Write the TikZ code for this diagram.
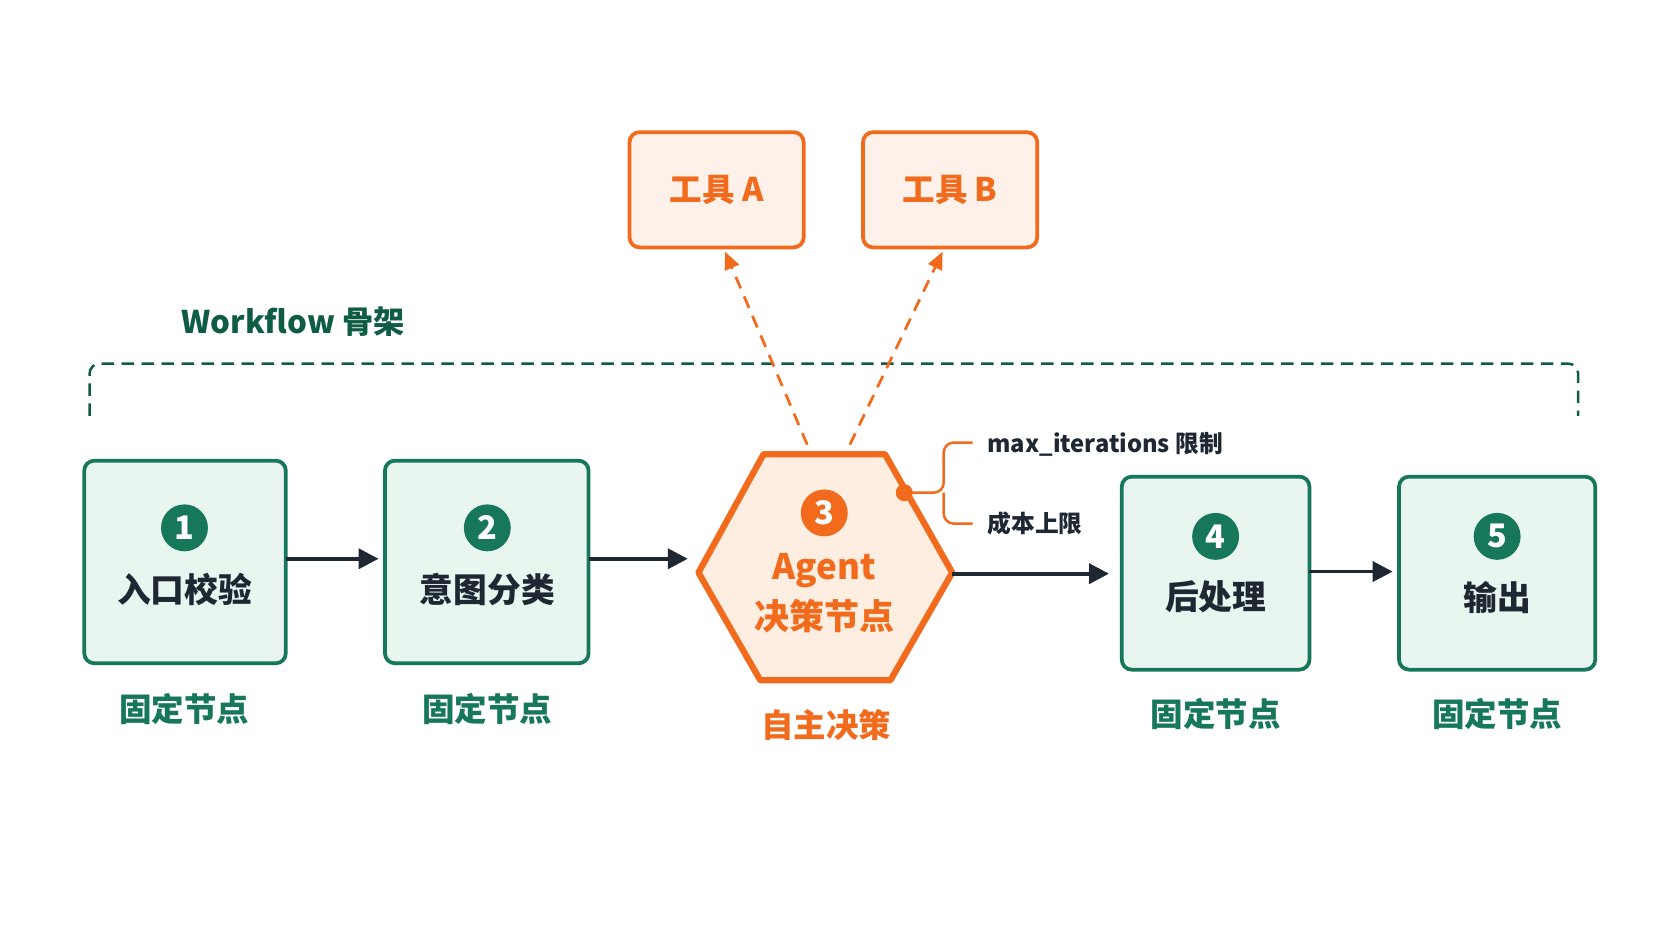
\documentclass[tikz,border=0pt]{standalone}
\usepackage{fontspec}
\setmainfont{Noto Sans CJK SC}
\usetikzlibrary{arrows.meta,positioning}
\definecolor{fixgreen}{HTML}{17775B}
\definecolor{fixfill}{HTML}{E9F6F0}
\definecolor{darkgreen}{HTML}{0F5C45}
\definecolor{agentorange}{HTML}{F26B1D}
\definecolor{agentfill}{HTML}{FDEEE1}
\definecolor{toolfill}{HTML}{FDF1EA}
\definecolor{ink}{HTML}{1F2733}
\tikzset{
  fixed/.style={draw=fixgreen,fill=fixfill,line width=3pt,rounded corners=8pt},
  tool/.style={draw=agentorange,fill=toolfill,line width=3pt,rounded corners=8pt,
    minimum width=4.9cm,minimum height=3.24cm,font=\fontsize{26}{30}\selectfont\bfseries,text=agentorange},
  num/.style={circle,fill=#1,text=white,minimum size=1.32cm,inner sep=0pt,font=\fontsize{26}{30}\selectfont\bfseries},
  title/.style={font=\fontsize{27}{32}\selectfont\bfseries,text=ink},
  kind/.style={font=\fontsize{26}{30}\selectfont\bfseries,text=fixgreen},
  flow/.style={-{Triangle[length=16pt,width=16pt]},draw=ink,line width=3pt},
  call/.style={-{Triangle[length=14pt,width=12pt]},draw=agentorange,line width=2.2pt,dash pattern=on 10pt off 7pt},
  note/.style={font=\fontsize{19}{23}\selectfont\bfseries,text=ink,anchor=west}
}
\begin{document}
\begin{tikzpicture}[x=0.03cm,y=-0.03cm]
  \useasboundingbox[fill=white] (0,0) rectangle (1568,882);
  % workflow frame
  \draw[darkgreen,line width=2pt,dash pattern=on 10pt off 6pt,rounded corners=8pt]
    (84,390) -- (84,341) -- (1480,341) -- (1480,390);
  \node[anchor=west,font=\fontsize{25}{30}\selectfont\bfseries,text=darkgreen] (frame) at (166,302) {Workflow 骨架};
  % fixed steps
  \draw[fixed] (79,432) rectangle (268,622);
  \draw[fixed] (361,432) rectangle (552,622);
  \draw[fixed] (1052,447) rectangle (1228,628);
  \draw[fixed] (1312,447) rectangle (1496,628);
  \coordinate (s1) at (268,524);
  \coordinate (t2) at (355,524);
  \coordinate (s2) at (552,524);
  \node[num=fixgreen] (n1) at (173,495) {1};
  \node[num=fixgreen] (n2) at (457,495) {2};
  \node[num=fixgreen] (n4) at (1140,503) {4};
  \node[num=fixgreen] (n5) at (1404,503) {5};
  \node[title] (l1) at (173,553) {入口校验};
  \node[title] (l2) at (457,553) {意图分类};
  \node[title] (l4) at (1140,560) {后处理};
  \node[title] (l5) at (1404,560) {输出};
  \node[kind] (k1) at (173,665) {固定节点};
  \node[kind] (k2) at (457,665) {固定节点};
  \node[kind] (k4) at (1140,670) {固定节点};
  \node[kind] (k5) at (1404,670) {固定节点};
  % agent hexagon
  \draw[draw=agentorange,fill=agentfill,line width=5pt,line join=round]
    (716,426) -- (830,426) -- (893,537) -- (835,638) -- (713,638) -- (655,537) -- cycle;
  \node[num=agentorange] (n3) at (773,481) {3};
  \node[font=\fontsize{28}{32}\selectfont\bfseries,text=agentorange] (agent) at (773,535) {Agent};
  \node[font=\fontsize{28}{32}\selectfont\bfseries,text=agentorange] (decide) at (773,578) {决策节点};
  \node[font=\fontsize{26}{30}\selectfont\bfseries,text=agentorange] (k3) at (775,680) {自主决策};
  % tools
  \node[tool] (toolA) at (672,178) {工具 A};
  \node[tool] (toolB) at (891,178) {工具 B};
  \coordinate (hexA) at (757,417);
  \coordinate (hexB) at (797,417);
  \coordinate (ta) at (680,236);
  \coordinate (tb) at (884,236);
  \draw[call] (hexA) -- (ta);
  \draw[call] (hexB) -- (tb);
  % main flow
  \coordinate (hexL) at (645,524);
  \coordinate (hexR) at (893,538);
  \coordinate (t4) at (1040,538);
  \coordinate (s4) at (1228,536);
  \coordinate (t5) at (1306,536);
  \draw[flow] (s1) -- (t2);
  \draw[flow] (s2) -- (hexL);
  \draw[flow] (hexR) -- (t4);
  \draw[flow] (s4) -- (t5);
  % limits
  \coordinate (dot) at (848,462);
  \draw[agentorange,line width=2pt,rounded corners=8pt]
    (dot) -- (885,462) -- (885,415) -- (912,415);
  \draw[agentorange,line width=2pt,rounded corners=8pt]
    (885,462) -- (885,491) -- (912,491);
  \fill[agentorange] (dot) circle (8);
  \node[note] (iter) at (922,417) {max\_iterations 限制};
  \node[note] (cost) at (922,491) {成本上限};
\end{tikzpicture}
\end{document}
